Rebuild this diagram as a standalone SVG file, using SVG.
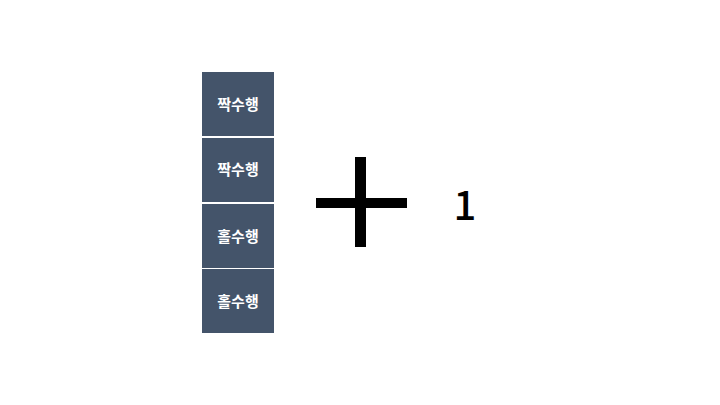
<svg xmlns="http://www.w3.org/2000/svg" width="720" height="405" viewBox="0 0 720 405">
<style>
.box{fill:#44546a}
.lbl{font-family:"Noto Sans CJK KR","Noto Sans",sans-serif;font-size:15px;font-weight:bold;fill:#ffffff;text-anchor:middle;dominant-baseline:central}
.num{font-family:"Noto Sans CJK KR","Noto Sans",sans-serif;font-size:40px;font-weight:500;fill:#000000;text-anchor:middle}
</style>
<rect width="720" height="405" fill="#ffffff"/>
<g id="row1"><rect class="box" x="202" y="72" width="72" height="64"/><text class="lbl" x="238" y="103">짝수행</text></g>
<g id="row2"><rect class="box" x="202" y="138" width="72" height="64"/><text class="lbl" x="238" y="168">짝수행</text></g>
<g id="row3"><rect class="box" x="202" y="204" width="72" height="64"/><text class="lbl" x="238" y="235">홀수행</text></g>
<g id="row4"><rect class="box" x="202" y="269" width="72" height="64"/><text class="lbl" x="238" y="300">홀수행</text></g>
<g id="plus"><rect x="355" y="157" width="11" height="90" fill="#000"/><rect x="316" y="198" width="91" height="10" fill="#000"/></g>
<g id="one"><text class="num" x="465" y="220">1</text></g>
</svg>
